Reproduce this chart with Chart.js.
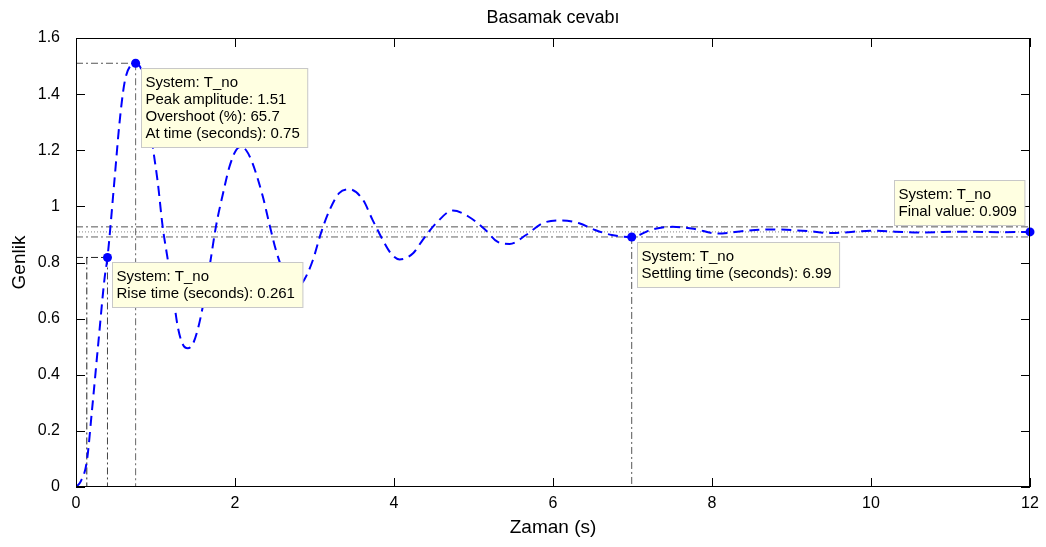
<!DOCTYPE html>
<html>
<head>
<meta charset="utf-8">
<script src="https://cdn.jsdelivr.net/npm/chart.js@4.4.1/dist/chart.umd.min.js"></script>
<style>
  html, body { margin: 0; padding: 0; background: #fff; }
  #wrap { width: 1046px; height: 547px; }
</style>
</head>
<body>
<div id="wrap"><canvas id="step"></canvas></div>
<script>
// Step response of T_no
const times = [0, 0.06, 0.136, 0.2, 0.283, 0.358, 0.396, 0.484, 0.547, 0.61,
  0.694, 0.75, 0.85, 0.91, 0.966, 1.03, 1.09, 1.155, 1.218, 1.28,
  1.34, 1.406, 1.47, 1.53, 1.595, 1.68, 1.76, 1.85, 1.93, 2.015,
  2.07, 2.14, 2.22, 2.35, 2.43, 2.52, 2.62, 2.75, 2.87, 2.98,
  3.08, 3.19, 3.31, 3.44, 3.61, 3.73, 3.86, 3.96, 4.07, 4.24,
  4.36, 4.53, 4.74, 4.94, 5.15, 5.3, 5.455, 5.66, 5.87, 6.12,
  6.33, 6.53, 6.74, 6.99, 7.25, 7.5, 7.77, 8.07, 8.43, 8.75,
  9.2, 9.5, 10.0, 10.6, 11.2, 11.6, 12];
const amplitudes = [0, 0.02, 0.091, 0.27, 0.52, 0.74, 0.818, 1.094, 1.297, 1.44,
  1.504, 1.51, 1.46, 1.34, 1.213, 1.082, 0.928, 0.809, 0.69, 0.571,
  0.51, 0.494, 0.51, 0.56, 0.643, 0.785, 0.928, 1.047, 1.141, 1.201,
  1.212, 1.20, 1.154, 1.035, 0.94, 0.839, 0.76, 0.705, 0.738, 0.809,
  0.904, 0.987, 1.047, 1.061, 1.023, 0.952, 0.88, 0.833, 0.811, 0.833,
  0.88, 0.94, 0.985, 0.963, 0.916, 0.874, 0.866, 0.898, 0.94, 0.950,
  0.94, 0.916, 0.898, 0.891, 0.918, 0.927, 0.92, 0.903, 0.913, 0.918,
  0.912, 0.905, 0.913, 0.907, 0.910, 0.908, 0.909];

// characteristics (rise, peak, settling, final)
const markerTimes = [0.396, 0.75, 6.99, 12];
const markerValues = [0.818, 1.51, 0.891, 0.909];
const riseStart = 0.136;
const settleBand = [0.927, 0.891];
const finalValue = 0.909;
const tipTexts = [
  ['System: T_no', 'Rise time (seconds): 0.261'],
  ['System: T_no', 'Peak amplitude: 1.51', 'Overshoot (%): 65.7', 'At time (seconds): 0.75'],
  ['System: T_no', 'Settling time (seconds): 6.99'],
  ['System: T_no', 'Final value: 0.909']
];

const chartTitle = 'Basamak cevabı';
const xTickValues = [0, 2, 4, 6, 8, 10, 12];
const yTickValues = [0, 0.2, 0.4, 0.6, 0.8, 1, 1.2, 1.4, 1.6];

const FONT = '"Liberation Sans", Arial, Helvetica, sans-serif';
const dashDot = [7, 3, 2, 3];

function seg(x0, y0, x1, y1, color) {
  return {
    data: [{x: x0, y: y0}, {x: x1, y: y1}],
    borderColor: color, borderWidth: 1, borderDash: dashDot,
    pointRadius: 0, fill: false, tension: 0
  };
}

const [riseT, peakT, settleT, finalT] = markerTimes;
const [riseV, peakV, settleV] = markerValues;

const datasets = [
  {
    data: markerTimes.map((t, i) => ({x: t, y: markerValues[i]})),
    showLine: false, pointRadius: 4.5, pointBackgroundColor: '#0000ff',
    pointBorderColor: '#0000ff', pointBorderWidth: 0, clip: false
  },
  {
    data: times.map((t, i) => ({x: t, y: amplitudes[i]})),
    borderColor: '#0000ff', borderWidth: 2, borderDash: [10, 6],
    pointRadius: 0, fill: false, cubicInterpolationMode: 'monotone'
  },
  seg(0, riseV, riseT, riseV, '#222'),
  seg(riseStart, riseV, riseStart, 0, '#222'),
  seg(riseT, riseV, riseT, 0, '#444'),
  seg(0, peakV, peakT, peakV, '#555'),
  seg(peakT, peakV, peakT, 0, '#666'),
  seg(0, settleBand[0], finalT, settleBand[0], '#555'),
  seg(0, settleBand[1], finalT, settleBand[1], '#666'),
  seg(settleT, settleV, settleT, 0, '#555'),
  Object.assign(seg(0, finalValue, finalT, finalValue, '#888'), {borderDash: [1, 2]})
];

// title over the plot box, frame, inward ticks and the data tip boxes
const framePlugin = {
  id: 'framePlugin',
  afterDatasetsDraw(chart) {
    const {ctx, chartArea: a, scales: {x, y}} = chart;
    ctx.save();
    ctx.fillStyle = '#000';
    ctx.font = '18px ' + FONT;
    ctx.textAlign = 'center';
    ctx.textBaseline = 'middle';
    ctx.fillText(chartTitle, (a.left + a.right) / 2, 18);

    ctx.strokeStyle = '#000';
    ctx.lineWidth = 1;
    ctx.setLineDash([]);
    ctx.beginPath();
    xTickValues.forEach(v => {
      const px = Math.round(x.getPixelForValue(v)) + 0.5;
      ctx.moveTo(px, a.bottom); ctx.lineTo(px, a.bottom - 9);
      ctx.moveTo(px, a.top); ctx.lineTo(px, a.top + 9);
    });
    yTickValues.forEach(v => {
      const py = Math.round(y.getPixelForValue(v)) + 0.5;
      ctx.moveTo(a.left, py); ctx.lineTo(a.left + 9, py);
      ctx.moveTo(a.right, py); ctx.lineTo(a.right - 9, py);
    });
    ctx.stroke();
    ctx.strokeRect(Math.round(a.left) + 0.5, Math.round(a.top) + 0.5,
      Math.round(a.width) - 1, Math.round(a.height) - 1);

    ctx.font = '15px ' + FONT;
    ctx.textAlign = 'left';
    tipTexts.forEach((lines, i) => {
      const mx = x.getPixelForValue(markerTimes[i]);
      const my = y.getPixelForValue(markerValues[i]);
      const w = Math.max(...lines.map(s => ctx.measureText(s).width)) + 12;
      const h = lines.length * 17 + 11;
      let bx = mx + 5, by = my + 5;
      if (i === tipTexts.length - 1) { bx = mx - 6 - w; by = my - 7 - h; }
      bx = Math.round(bx) + 0.5; by = Math.round(by) + 0.5;
      ctx.fillStyle = '#ffffe1';
      ctx.fillRect(bx, by, w, h);
      ctx.strokeStyle = '#c8c8c8';
      ctx.strokeRect(bx, by, w, h);
      ctx.fillStyle = '#000';
      lines.forEach((s, k) => ctx.fillText(s, bx + 4, by + 14 + k * 17));
    });
    ctx.restore();
  }
};

new Chart(document.getElementById('step'), {
  type: 'scatter',
  data: {datasets: datasets},
  options: {
    responsive: true,
    maintainAspectRatio: false,
    animation: false,
    showLine: true,
    layout: {padding: {left: 0, right: 16, top: 38, bottom: 0}},
    plugins: {
      legend: {display: false},
      tooltip: {enabled: false},
      title: {display: false}
    },
    scales: {
      x: {
        type: 'linear', min: 0, max: 12,
        afterBuildTicks: s => { s.ticks = xTickValues.map(v => ({value: v})); },
        afterFit: s => { s.height = 60; },
        grid: {display: false, drawTicks: false},
        border: {display: false},
        ticks: {color: '#000', font: {family: FONT, size: 16}, padding: 7, maxRotation: 0,
          callback: v => String(v)},
        title: {display: true, text: 'Zaman (s)', color: '#000',
          font: {family: FONT, size: 19}, padding: {top: 8, bottom: 8}}
      },
      y: {
        type: 'linear', min: 0, max: 1.6,
        afterBuildTicks: s => { s.ticks = yTickValues.map(v => ({value: v})); },
        afterFit: s => { s.width = 76; },
        grid: {display: false, drawTicks: false},
        border: {display: false},
        ticks: {color: '#000', font: {family: FONT, size: 16}, padding: 16,
          callback: v => String(v)},
        title: {display: true, text: 'Genlik', color: '#000',
          font: {family: FONT, size: 19}, padding: {top: 8, bottom: 8}}
      }
    }
  },
  plugins: [framePlugin]
});
</script>
</body>
</html>
